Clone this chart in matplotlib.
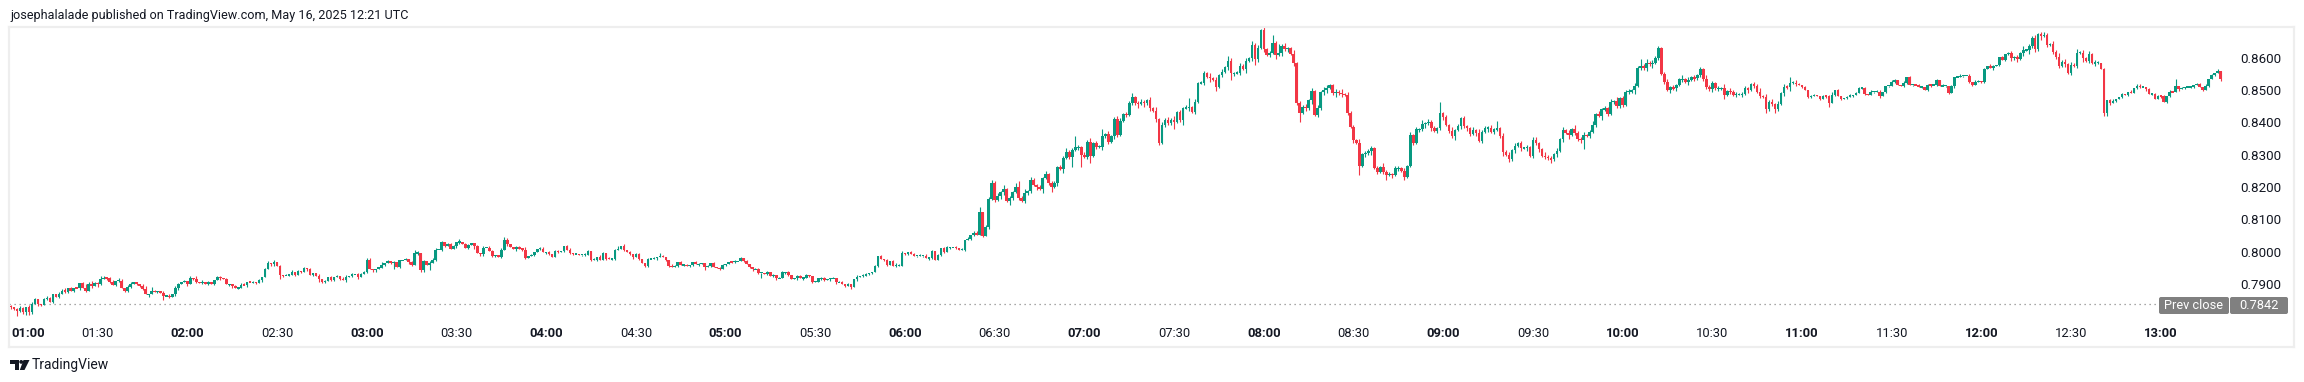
import numpy as np
import matplotlib
matplotlib.use("Agg")
import matplotlib.pyplot as plt
from matplotlib.patches import Polygon, Circle, FancyBboxPatch
import matplotlib.transforms as mtransforms

# ---------------- data (1-minute bars, prices in pips = price * 10000) ----------------
start_minute = 2          # first bar is 01:02
first_open = 7836

close_01h = [7832,7827,7821,7829,7817,7834,7817,7842,7858,7841,7839,7858,7860,7848,7874,7865,7873,7884,7881,7891,
             7883,7892,7891,7906,7891,7883,7905,7897,7908,7904,7920,7924,7922,7912,7901,7914,7915,7893,7884,7896,
             7905,7910,7904,7899,7889,7872,7872,7882,7880,7882,7878,7866,7868,7864,7872,7891,7903,7912]
close_02h = [7914,7903,7924,7920,7912,7908,7912,7905,7910,7905,7916,7926,7922,7920,7903,7903,7897,7892,7892,7902,
             7900,7911,7910,7910,7908,7916,7925,7951,7969,7965,7972,7959,7932,7931,7932,7933,7943,7932,7944,7943,
             7954,7950,7932,7939,7930,7921,7911,7913,7925,7918,7927,7929,7921,7916,7927,7929,7934,7935,7925,7934]
close_03h = [7942,7980,7952,7947,7952,7955,7963,7968,7976,7970,7971,7958,7978,7978,7981,7971,7963,7999,8001,7947,
             7976,7963,7968,7980,8011,8011,8033,8022,8027,8013,8021,8033,8035,8028,8017,8024,8030,8022,8001,7996,
             8017,8017,8007,7991,7994,7988,8011,8042,8027,8019,8014,8019,8014,8011,7986,7992,7994,8004,8014,8014]
close_04h = [8002,8002,7997,7989,8007,8004,8007,8022,8011,8001,7997,7997,7995,7995,7995,8005,7980,7980,7989,7980,
             7999,7983,7982,7982,8009,8014,8023,8011,8004,7997,7987,7997,7982,7968,7961,7982,7982,7984,7987,7991,
             7989,7980,7961,7956,7960,7971,7963,7963,7961,7963,7971,7965,7966,7970,7956,7960,7968,7956,7953,7951]
close_05h = [7963,7966,7973,7972,7974,7975,7984,7976,7966,7958,7950,7950,7939,7939,7935,7940,7929,7932,7922,7922,
             7940,7940,7932,7920,7922,7929,7922,7924,7931,7930,7911,7911,7922,7922,7917,7919,7922,7922,7909,7909,
             7904,7898,7904,7896,7919,7927,7930,7930,7935,7939,7940,7960,7991,7981,7978,7963,7975,7961,7961,7961]
close_06h = [8001,7997,8004,7997,7991,7992,7992,7992,7984,7986,8006,7980,7994,8015,8004,8018,8018,8018,8017,8011,
             8011,8040,8045,8056,8063,8056,8128,8053,8080,8169,8218,8165,8177,8189,8199,8162,8172,8189,8206,8172,
             8162,8187,8191,8227,8211,8204,8198,8232,8245,8218,8206,8216,8266,8260,8294,8314,8299,8320,8328,8328]
close_07h = [8304,8299,8345,8300,8340,8330,8330,8361,8369,8345,8361,8416,8366,8410,8430,8428,8466,8483,8464,8462,
             8469,8464,8474,8449,8441,8415,8342,8397,8413,8402,8413,8407,8436,8413,8449,8449,8451,8438,8469,8526,
             8528,8557,8545,8541,8536,8514,8552,8562,8575,8595,8557,8557,8559,8580,8570,8595,8603,8645,8601,8636]
close_08h = [8691,8631,8614,8619,8650,8614,8619,8642,8631,8634,8616,8588,8464,8435,8453,8448,8474,8502,8428,8448,
             8498,8505,8512,8521,8495,8500,8495,8492,8490,8435,8390,8350,8342,8271,8306,8309,8317,8325,8263,8252,
             8266,8252,8242,8244,8242,8263,8263,8254,8237,8270,8366,8342,8383,8383,8400,8402,8407,8386,8379,8386]
close_09h = [8433,8420,8397,8379,8361,8381,8392,8417,8392,8386,8369,8381,8371,8348,8376,8386,8388,8376,8383,8386,
             8361,8314,8304,8290,8319,8332,8340,8325,8325,8328,8302,8350,8340,8321,8301,8299,8293,8290,8306,8316,
             8352,8381,8373,8366,8384,8373,8352,8350,8366,8363,8376,8397,8431,8425,8445,8448,8431,8469,8471,8454]
close_10h = [8479,8459,8500,8500,8505,8518,8574,8580,8572,8590,8584,8590,8605,8634,8556,8530,8505,8513,8510,8521,
             8538,8539,8531,8536,8544,8541,8552,8569,8538,8515,8507,8526,8510,8510,8510,8490,8502,8500,8490,8492,
             8492,8492,8510,8505,8523,8518,8500,8487,8484,8445,8469,8462,8445,8462,8495,8515,8513,8528,8528,8524]
close_11h = [8519,8514,8505,8483,8485,8490,8485,8477,8487,8485,8464,8490,8505,8485,8477,8480,8482,8488,8490,8495,
             8511,8511,8492,8488,8500,8500,8500,8485,8500,8518,8518,8531,8536,8521,8518,8528,8545,8521,8521,8519,
             8514,8514,8505,8521,8519,8521,8536,8516,8518,8518,8497,8516,8545,8545,8549,8549,8549,8531,8521,8531]
close_12h = [8533,8531,8569,8580,8572,8578,8583,8606,8598,8617,8619,8603,8606,8601,8619,8629,8629,8640,8667,8631,
             8678,8673,8676,8645,8648,8624,8606,8580,8593,8585,8559,8583,8580,8621,8621,8603,8595,8617,8588,8590,
             8590,8569,8433,8474,8464,8472,8476,8483,8492,8490,8500,8495,8511,8518,8514,8514,8507,8493,8493,8476]
close_13h = [8487,8485,8469,8487,8500,8498,8518,8507,8511,8514,8514,8514,8521,8524,8514,8505,8518,8539,8552,8559,
             8565,8538]

# wick lengths beyond the body, one digit per bar, in units of 4 pips
wick_up_01h = "1012101210 0121002120 1010131211 2101102101 1000120310 01010210"
wick_dn_01h = "1141122101 1010101011 0101010102 1011011011 1011102001 03010110"
wick_up_02h = "1010201010 0110100101 1011010120 2010101010 1010010101 0101101011"
wick_dn_02h = "0101101010 1010011010 0101101001 1031010101 0101031101 1010101010"
wick_up_03h = "1110002010 1000101310 1021101011 1020110010 1011001210 0110201001"
wick_dn_03h = "0101100101 5010011011 1040101100 0110010201 1001101010 0201100101"
wick_up_04h = "1010110011 0100110101 1010120101 0110010102 1001101010 0110010101"
wick_dn_04h = "0110010101 1001101010 0101100101 1010110010 0110010101 1010201001"
wick_up_05h = "1001101010 0110010101 1010011010 0101100101 1010010110 0101010121"
wick_dn_05h = "0101100101 1014010110 0110010101 1001101010 0102010101 1010110010"
wick_up_06h = "1001101010 1010110010 1010114021 2121311134 1312112121 1212231192"
wick_dn_06h = "0110010101 1001101010 0101100101 1212213212 1221121312 4121312812"
wick_up_07h = "1213121612 1122121312 2112131212 1312127121 1213121214 2112121312"
wick_dn_07h = "9125121312 1221121213 1312122121 1612412121 1213131212 5212131252"
wick_up_08h = "1212627121 1312121213 1221121312 1213121212 1312122121 2121312121"
wick_dn_08h = "1212131212 1217121312 1221131212 1217121312 1241212131 1212131212"
wick_up_09h = "9121312121 1213121216 1312121212 1221131212 1212131221 1312121213"
wick_dn_09h = "1212131212 2121213121 1312121212 1212121312 1213121271 2121312121"
wick_up_10h = "1212121513 1212112121 1312121213 1212131212 1221121312 1212121412"
wick_dn_10h = "1212131212 1312121212 1213121212 1212131212 1212121213 1231121312"
wick_up_11h = "1010110010 1201001101 1010101100 0110010101 1001101010 0101100101"
wick_dn_11h = "0101100101 3010101010 0110010101 1010011010 0101101001 1010010110"
wick_up_12h = "1010110010 1212131212 1221121312 1213121212 1010110010 0101100101"
wick_dn_12h = "0110010101 1212121312 1312121212 1212131212 1022101010 1001101010"
wick_up_13h = "1010105010 1001101010 10"
wick_dn_13h = "0101100101 0110010101 01"

time_labels = ["01:00", "01:30", "02:00", "02:30", "03:00", "03:30", "04:00", "04:30", "05:00",
               "05:30", "06:00", "06:30", "07:00", "07:30", "08:00", "08:30", "09:00", "09:30",
               "10:00", "10:30", "11:00", "11:30", "12:00", "12:30", "13:00"]
price_ticks = [0.7900, 0.8000, 0.8100, 0.8200, 0.8300, 0.8400, 0.8500, 0.8600]
prev_close = 0.7842
title = "josephalalade published on TradingView.com, May 16, 2025 12:21 UTC"

# ---------------- assemble ----------------
def digits(s):
    return [int(c) for c in s if c.isdigit()]

closes_p = (close_01h + close_02h + close_03h + close_04h + close_05h + close_06h + close_07h +
            close_08h + close_09h + close_10h + close_11h + close_12h + close_13h)
wu = digits(wick_up_01h + wick_up_02h + wick_up_03h + wick_up_04h + wick_up_05h + wick_up_06h +
            wick_up_07h + wick_up_08h + wick_up_09h + wick_up_10h + wick_up_11h + wick_up_12h + wick_up_13h)
wd = digits(wick_dn_01h + wick_dn_02h + wick_dn_03h + wick_dn_04h + wick_dn_05h + wick_dn_06h +
            wick_dn_07h + wick_dn_08h + wick_dn_09h + wick_dn_10h + wick_dn_11h + wick_dn_12h + wick_dn_13h)
n = len(closes_p)
wu = (wu + [1] * n)[:n]
wd = (wd + [1] * n)[:n]

closes = np.array(closes_p, dtype=float) / 10000.0
opens = np.concatenate([[first_open / 10000.0], closes[:-1]])
highs = np.maximum(opens, closes) + np.array(wu) * 0.0004
lows = np.minimum(opens, closes) - np.array(wd) * 0.0004
minutes = start_minute + np.arange(n)

# ---------------- figure ----------------
W, H, DPI = 2304, 382, 100
fig = plt.figure(figsize=(W / DPI, H / DPI), dpi=DPI)
fig.patch.set_facecolor("white")
TXT = "#131722"
FONT = ["Roboto", "DejaVu Sans"]

# transform: pixel coords with origin at top-left
PX = mtransforms.Affine2D().scale(1.0 / W, -1.0 / H).translate(0, 1) + fig.transFigure

def frac(x0, y0, x1, y1):
    return [x0 / W, 1 - y1 / H, (x1 - x0) / W, (y1 - y0) / H]

ax = fig.add_axes(frac(9, 27, 2294, 347))
x0_px, dx_px = 5.0, 2.99
ax.set_xlim((9 - x0_px) / dx_px, (2294 - x0_px) / dx_px)
ppx = 0.01 / 32.3
ax.set_ylim(0.86 - (347 - 59.3) * ppx, 0.86 + (59.3 - 27) * ppx)
ax.set_xticks([])
ax.set_yticks([])
for s in ax.spines.values():
    s.set_color("#eeeeee")
    s.set_linewidth(1.6)

UP, DN = "#089981", "#f23645"
isup = closes >= opens
cols = np.where(isup, UP, DN)
blo = np.minimum(opens, closes)
bh = np.abs(closes - opens)
minh = ppx * 1.3
bhd = np.maximum(bh, minh)
ax.vlines(minutes, lows, highs, colors=cols, linewidth=0.8, zorder=2)
ax.bar(minutes, bhd, bottom=blo - (bhd - bh) / 2, width=0.86, color=cols, linewidth=0, zorder=3)

# prev close dotted line
x_end = (2158 - x0_px) / dx_px
ax.plot([ax.get_xlim()[0], x_end], [prev_close, prev_close], color="#8a8a8a", lw=0.9,
        linestyle=(0, (1.0, 3.0)), zorder=1)

# time labels
trans_t = mtransforms.blended_transform_factory(ax.transData, ax.transAxes)
yl = (347 - 333.5) / 320
for i, lab in enumerate(time_labels):
    m = 30 * i
    bold = lab.endswith(":00")
    if i == 0:
        ax.text((11 - x0_px) / dx_px, yl, lab, transform=trans_t, ha="left", va="center",
                fontsize=9.4, fontweight="bold", color=TXT, family=FONT)
    else:
        ax.text(m + 1.0, yl, lab, transform=trans_t, ha="center", va="center",
                fontsize=9.4, fontweight="bold" if bold else "normal", color=TXT, family=FONT)

# price labels
xr = (2281 - x0_px) / dx_px
for p in price_ticks:
    ax.text(xr, p, f"{p:.4f}", ha="right", va="center", fontsize=9.6, color=TXT, family=FONT)

# prev close label boxes (pixel coords)
def px_box(x0, y0, x1, y1, color):
    r = FancyBboxPatch((x0, y0), x1 - x0, y1 - y0,
                       boxstyle="round,pad=0,rounding_size=2", transform=PX,
                       facecolor=color, edgecolor="none")
    fig.patches.append(r)

px_box(2159, 297, 2229, 314, "#808080")
px_box(2230, 297, 2288, 314, "#808080")
fig.text(2194, 305.8, "Prev close", ha="center", va="center", fontsize=9.2,
         color="white", family=FONT, transform=PX)
fig.text(2259, 305.8, f"{prev_close:.4f}", ha="center", va="center", fontsize=9.2,
         color="white", family=FONT, transform=PX)

# title
fig.text(10, 15.5, title, ha="left", va="center", fontsize=9.1, color=TXT, family=FONT, transform=PX)

# TradingView logo + wordmark
lx, ly = 10, 360
logo = [
    Polygon([(lx + 0, ly + 0), (lx + 8.5, ly + 0), (lx + 8.5, ly + 10), (lx + 4.6, ly + 10),
             (lx + 4.6, ly + 3.6), (lx + 0, ly + 3.6)], closed=True),
    Polygon([(lx + 13.5, ly + 0), (lx + 19.5, ly + 0), (lx + 14.5, ly + 10), (lx + 9.8, ly + 10)],
            closed=True),
    Circle((lx + 11.2, ly + 1.9), 1.9),
]
for pch in logo:
    pch.set_transform(PX)
    pch.set_facecolor(TXT)
    pch.set_edgecolor("none")
    fig.patches.append(pch)
fig.text(32, 365.5, "TradingView", ha="left", va="center", fontsize=10.0, color=TXT,
         family=FONT, transform=PX)

fig.savefig("out.png", dpi=DPI, facecolor="white")
